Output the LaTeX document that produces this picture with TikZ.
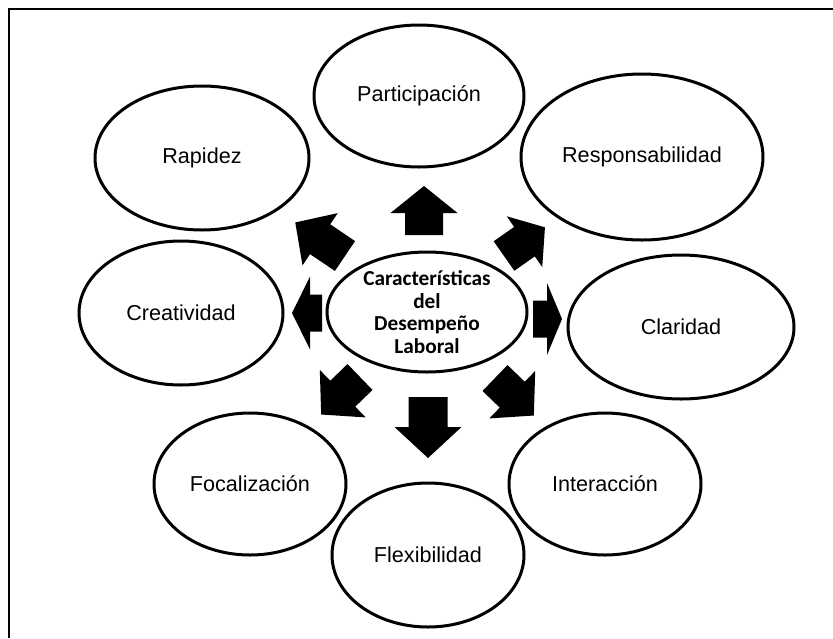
\documentclass[tikz,border=0pt]{standalone}
\usepackage{fontspec}
\setmainfont{Liberation Sans}
\newfontfamily\carlito{Carlito}
\usetikzlibrary{shapes.geometric}

\tikzset{
    rasgo/.style={ellipse,draw=black,line width=3pt,inner sep=0pt,
        font=\fontsize{21.6}{26}\selectfont},
    pics/flecha/.style n args={4}{code={
        \fill[black] (0,-#3/2) -- (#1-#4,-#3/2) -- (#1-#4,-#2/2) -- (#1,0)
            -- (#1-#4,#2/2) -- (#1-#4,#3/2) -- (0,#3/2) -- cycle;
    }},
}

\begin{document}
\begin{tikzpicture}[x=1pt,y=-1pt]
    \useasboundingbox (0,0) rectangle (833,638);
    \draw[line width=1.5pt] (9,638) -- (9,9) -- (833,9);

    \node[rasgo,minimum width=200pt,minimum height=120pt,align=center,
        font=\carlito\bfseries\fontsize{21.3}{22.7}\selectfont]
        (cdl) at (427,312) {Características\\del\\Desempeño\\Laboral};

    \node[rasgo,minimum width=210pt,minimum height=142pt] (part) at (419,96) {Participación};
    \node[rasgo,minimum width=242pt,minimum height=166pt] (resp) at (642,157) {Responsabilidad};
    \node[rasgo,minimum width=214pt,minimum height=144pt] (rap) at (202,158) {Rapidez};
    \node[rasgo,minimum width=204pt,minimum height=144pt] (crea) at (181,313) {Creatividad};
    \node[rasgo,minimum width=226pt,minimum height=144pt] (clar) at (681,327) {Claridad};
    \node[rasgo,minimum width=192pt,minimum height=142pt] (inter) at (605,484) {Interacción};
    \node[rasgo,minimum width=192pt,minimum height=142pt] (foc) at (250,484) {Focalización};
    \node[rasgo,minimum width=192pt,minimum height=144pt] (flex) at (428,555) {Flexibilidad};

    \pic[rotate=90] (fpart) at (424,235) {flecha={49}{67}{38}{27}};
    \pic[rotate=-90] (fflex) at (428,397) {flecha={61}{67}{39}{31}};
    \pic[rotate=180] (fcrea) at (322,313) {flecha={30}{73}{37}{18}};
    \pic[rotate=0] (fclar) at (533,319) {flecha={29}{72}{37}{15}};
    \pic[rotate=146] (frap) at (345,256) {flecha={60}{63}{36}{30}};
    \pic[rotate=35] (fresp) at (504,256) {flecha={50}{62}{36}{25}};
    \pic[rotate=-136] (ffoc) at (360,377) {flecha={54}{66}{36}{30}};
    \pic[rotate=-44] (finter) at (495,378) {flecha={54}{66}{36}{30}};
    \end{tikzpicture}
\end{document}
